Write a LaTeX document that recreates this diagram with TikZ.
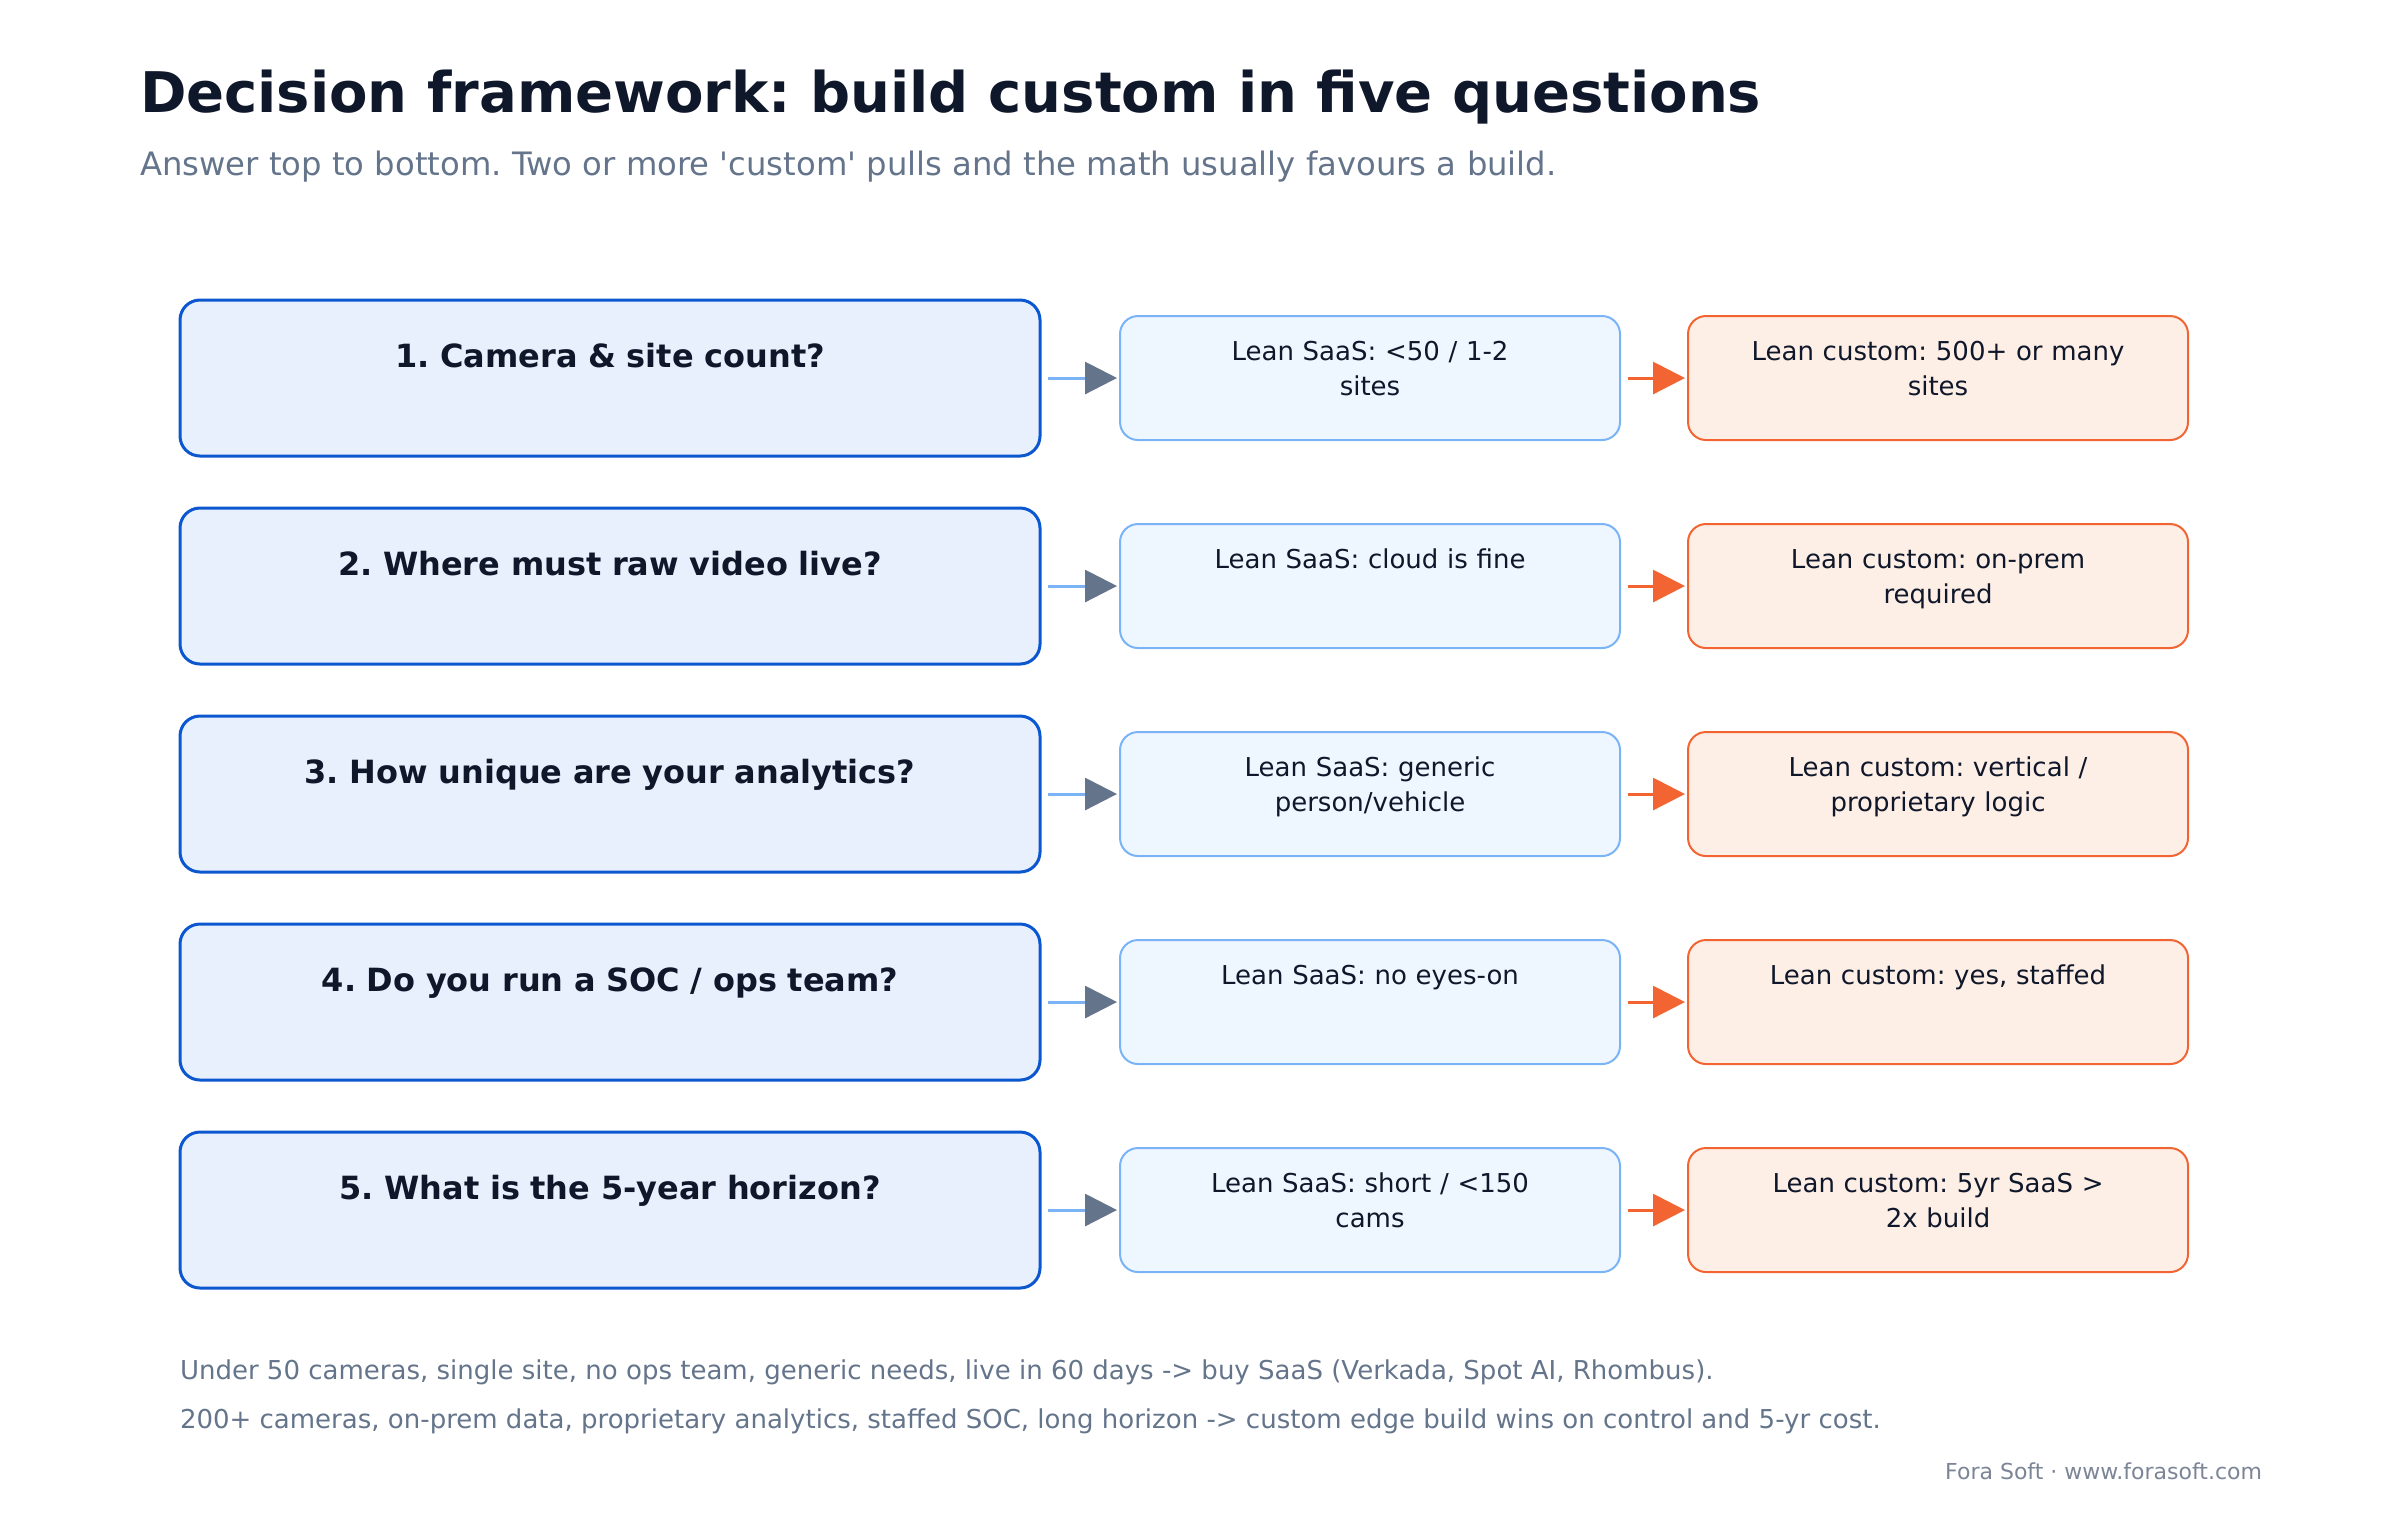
\documentclass[tikz,border=0pt]{standalone}
\usepackage{fontspec}
\usepackage{tikz}
\usetikzlibrary{positioning,arrows.meta}
\setmainfont{DejaVu Sans}
\frenchspacing
\definecolor{ink}{HTML}{0F172A}
\definecolor{slate}{HTML}{64748B}
\definecolor{credit}{HTML}{7C8596}
\definecolor{qline}{HTML}{0B57D0}
\definecolor{qfill}{HTML}{E8F0FD}
\definecolor{sline}{HTML}{7AB4F6}
\definecolor{sfill}{HTML}{EEF6FF}
\definecolor{cline}{HTML}{F26532}
\definecolor{cfill}{HTML}{FDEEE6}
\newcommand{\titleFont}[0]{\fontsize{15.94pt}{19pt}\selectfont\bfseries}
\newcommand{\subFont}[0]{\fontsize{9.18pt}{11pt}\selectfont}
\newcommand{\qFont}[0]{\fontsize{9.1pt}{11pt}\selectfont\bfseries}
\newcommand{\boxFont}[0]{\fontsize{7.4pt}{9.96pt}\selectfont}
\newcommand{\creditFont}[0]{\fontsize{6.26pt}{7.5pt}\selectfont}

\begin{document}
\begin{tikzpicture}
  \tikzset{every node/.style={outer sep=0pt},
    qbox/.style={draw=qline, fill=qfill, line width=0.03cm, rounded corners=0.2cm,
      text width=8.2cm, inner xsep=0.2cm, inner ysep=0pt, align=center,
      text height=0.67cm, text depth=0.89cm, font=\qFont, text=ink},
    sbox/.style={draw=sline, fill=sfill, line width=0.02cm, rounded corners=0.18cm,
      text width=4.6cm, inner xsep=0.2cm, inner ysep=0pt, align=center,
      text height=0.44cm, text depth=0.80cm, font=\boxFont, text=ink},
    cbox/.style={sbox, draw=cline, fill=cfill},
    sarrow/.style={draw=sline, line width=0.03cm, -{Triangle[length=0.32cm, width=0.32cm, color=slate]}},
    carrow/.style={draw=cline, line width=0.03cm, -{Triangle[length=0.32cm, width=0.32cm, color=cline]}}}
  \useasboundingbox (0,0) rectangle (24,-15.2);
  \node[anchor=base west, font=\titleFont, text=ink, inner sep=0pt] (title) at (1.40,-1.12)
    {Decision framework: build custom in five questions};
  \node[anchor=base west, font=\subFont, text=slate, inner sep=0pt] (subtitle) at (1.40,-1.75)
    {Answer top to bottom. Two or more \textquotesingle custom\textquotesingle{} pulls and the math usually favours a build.};
  % questions
  \node[qbox, anchor=north west] (q1) at (1.80,-3.00) {1. Camera \& site count?};
  \node[qbox, below=0.52cm of q1] (q2) {2. Where must raw video live?};
  \node[qbox, below=0.52cm of q2] (q3) {3. How unique are your analytics?};
  \node[qbox, below=0.52cm of q3] (q4) {4. Do you run a SOC / ops team?};
  \node[qbox, below=0.52cm of q4] (q5) {5. What is the 5-year horizon?};
  % lean saas
  \node[sbox, right=0.8cm of q1] (s1) {Lean SaaS: <50 / 1-2\\sites};
  \node[sbox, right=0.8cm of q2] (s2) {Lean SaaS: cloud is fine};
  \node[sbox, right=0.8cm of q3] (s3) {Lean SaaS: generic\\person/vehicle};
  \node[sbox, right=0.8cm of q4] (s4) {Lean SaaS: no eyes-on};
  \node[sbox, right=0.8cm of q5] (s5) {Lean SaaS: short / <150\\cams};
  % lean custom
  \node[cbox, right=0.68cm of s1] (c1) {Lean custom: 500+ or many\\sites};
  \node[cbox, right=0.68cm of s2] (c2) {Lean custom: on-prem\\required};
  \node[cbox, right=0.68cm of s3] (c3) {Lean custom: vertical /\\proprietary logic};
  \node[cbox, right=0.68cm of s4] (c4) {Lean custom: yes, staffed};
  \node[cbox, right=0.68cm of s5] (c5) {Lean custom: 5yr SaaS >\\2x build};
  \draw[sarrow] ([xshift=0.08cm]q1.east) -- ([xshift=-0.03cm]s1.west);
  \draw[sarrow] ([xshift=0.08cm]q2.east) -- ([xshift=-0.03cm]s2.west);
  \draw[sarrow] ([xshift=0.08cm]q3.east) -- ([xshift=-0.03cm]s3.west);
  \draw[sarrow] ([xshift=0.08cm]q4.east) -- ([xshift=-0.03cm]s4.west);
  \draw[sarrow] ([xshift=0.08cm]q5.east) -- ([xshift=-0.03cm]s5.west);
  \draw[carrow] ([xshift=0.08cm]s1.east) -- ([xshift=-0.03cm]c1.west);
  \draw[carrow] ([xshift=0.08cm]s2.east) -- ([xshift=-0.03cm]c2.west);
  \draw[carrow] ([xshift=0.08cm]s3.east) -- ([xshift=-0.03cm]c3.west);
  \draw[carrow] ([xshift=0.08cm]s4.east) -- ([xshift=-0.03cm]c4.west);
  \draw[carrow] ([xshift=0.08cm]s5.east) -- ([xshift=-0.03cm]c5.west);
  % footer
  \node[anchor=base west, font=\boxFont, text=slate, inner sep=0pt] (note1) at (1.80,-13.79)
    {Under 50 cameras, single site, no ops team, generic needs, live in 60 days -> buy SaaS (Verkada, Spot AI, Rhombus).};
  \node[anchor=base west, font=\boxFont, text=slate, inner sep=0pt] (note2) at (1.80,-14.28)
    {200+ cameras, on-prem data, proprietary analytics, staffed SOC, long horizon -> custom edge build wins on control and 5-yr cost.};
  \node[anchor=base east, font=\creditFont, text=credit, inner sep=0pt] (credit) at (22.62,-14.79)
    {Fora Soft · www.forasoft.com};
\end{tikzpicture}
\end{document}
